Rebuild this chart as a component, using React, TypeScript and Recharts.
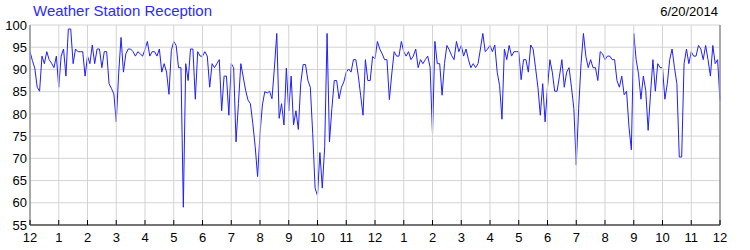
import React from 'react';
import { LineChart, Line, XAxis, YAxis, CartesianGrid } from 'recharts';

// 5-minute readings, one row of 12 per hour (midnight to midnight)
const hours00to03 = [
  94, 92, 90.3, 86, 85.1, 93, 91.3, 94, 92.2, 91.4, 90.4, 93,
  86, 93, 94.6, 88.5, 99.1, 99.1, 91.3, 94.6, 94, 94, 94, 88.5,
  93, 91.3, 95.5, 91.3, 94.6, 94.6, 90.4, 94, 94, 86.8, 85.7, 84.5,
  78.2, 89, 97.2, 89.4, 93.5, 94.6, 94.6, 94, 93, 94, 93.5, 93,
];
const hours04to07 = [
  94.5, 96.3, 93, 94, 94, 93, 94.6, 89.4, 91.3, 89.4, 84.4, 94.3,
  96.3, 95.4, 90.4, 90.4, 59, 91.3, 87.5, 94.6, 94.6, 83.3, 94, 93,
  93, 94, 93, 86, 91.3, 90.4, 91.3, 92.2, 80.7, 88.5, 88.5, 79.7,
  91.3, 90.4, 73.7, 82.3, 91.3, 88.3, 85.3, 83.1, 82.3, 77.8, 72.6, 65.9,
];
const hours08to11 = [
  75.6, 82, 85, 84.7, 85.1, 83.4, 90.3, 98.1, 79, 82.3, 77.5, 90.3,
  80.7, 88.5, 77.5, 80.7, 76.5, 86.8, 91.1, 91.1, 87.5, 86, 75.6, 63.3,
  61.6, 71.3, 63.3, 72.6, 98.1, 73.7, 81.2, 87.5, 87.5, 83.4, 86, 87.2,
  89.4, 90.1, 89.4, 92.2, 92.2, 88.7, 84.2, 79.7, 92.2, 87.5, 87.5, 92.9,
];
const hours12to15 = [
  92.4, 96.3, 94.6, 93.5, 92.2, 92.2, 83.2, 89, 94, 93, 93, 96.3,
  94, 93, 94, 92.2, 93, 94.6, 90.4, 92.2, 91.3, 92.2, 93, 90.5,
  75.4, 96.3, 91.3, 91.3, 84.2, 91.3, 95.4, 94.4, 93.1, 92.2, 96.3, 94,
  95.4, 93, 94.6, 92.2, 90.4, 91.3, 90.4, 91.3, 94.6, 98.1, 94, 94.6,
];
const hours16to19 = [
  95.4, 94, 95.5, 89.4, 86.4, 78.8, 94.6, 92.2, 95.4, 93, 94, 94,
  94, 87.7, 92.2, 92.2, 89.4, 95.5, 94.6, 90.4, 86, 79.7, 86.8, 78.2,
  86, 92.2, 89.4, 85.1, 85.1, 88.5, 92.2, 86, 89.4, 90.4, 86, 81.2,
  68.5, 81.2, 91.3, 98.1, 93, 90.4, 92.2, 90.4, 90.4, 87.5, 94, 93.5,
];
const hours20to23 = [
  92.2, 93, 93, 92.2, 92.2, 87.5, 86, 88.5, 84.3, 85.1, 77.1, 71.9,
  98.1, 92.2, 89, 83.3, 88.5, 85.3, 76.3, 84.5, 92.2, 85.1, 91.3, 90.4,
  90.4, 83.3, 86.8, 92.2, 94.6, 90.4, 86.8, 70.3, 70.3, 91.3, 94.6, 91.3,
  94, 93, 93, 95.4, 94.6, 92.2, 95.4, 92.2, 88.5, 95.4, 91.3, 92.2,
];
const lastReading = [83];

const hourTicks = Array.from({ length: 25 }, (_, i) => i);
const percentTicks = [55, 60, 65, 70, 75, 80, 85, 90, 95, 100];

const readings = [
  ...hours00to03, ...hours04to07, ...hours08to11,
  ...hours12to15, ...hours16to19, ...hours20to23, ...lastReading,
];
const data = readings.map((v, i) => ({ t: i / 12, v }));

const FONT = '"Liberation Sans", Arial, sans-serif';
const PLOT_H = 200;
const hourLabel = (h: number) => String(h % 12 === 0 ? 12 : h % 12);

// hour tick: gray grid line up through the plot, short black tick, label below
const BottomTick = (props: any) => {
  const { x, y, payload } = props;
  return (
    <g>
      <line x1={x} y1={y - PLOT_H} x2={x} y2={y} stroke="#d3d3d3" />
      <line x1={x} y1={y - 5} x2={x} y2={y} stroke="#000" />
      <text x={x} y={y + 17} textAnchor="middle" fontSize={13} fontFamily={FONT} fill="#000">
        {hourLabel(payload.value)}
      </text>
    </g>
  );
};

const TopTick = (props: any) => {
  const { x, y } = props;
  return <line x1={x} y1={y} x2={x} y2={y + 5} stroke="#000" />;
};

export default function App() {
  return (
    <div style={{ position: 'absolute', left: 0, top: 0, width: 750, height: 250, background: '#fff', fontFamily: FONT }}>
      <div style={{ position: 'absolute', left: 33, top: 2, fontSize: 15, lineHeight: '17px', color: '#2b2bff' }}>
        Weather Station Reception
      </div>
      <div style={{ position: 'absolute', right: 32, top: 4, fontSize: 13, lineHeight: '15px', color: '#000' }}>
        6/20/2014
      </div>
      <LineChart width={750} height={250} data={data} margin={{ top: 25, right: 0, bottom: 0, left: 0 }}>
        <CartesianGrid vertical={false} stroke="#d3d3d3" strokeWidth={1} />
        <XAxis
          dataKey="t"
          type="number"
          domain={[0, 24]}
          ticks={hourTicks}
          interval={0}
          height={25}
          stroke="#000"
          tickSize={0}
          tickMargin={0}
          tick={<BottomTick />}
        />
        <XAxis
          xAxisId="top"
          orientation="top"
          dataKey="t"
          type="number"
          domain={[0, 24]}
          ticks={hourTicks}
          interval={0}
          height={0}
          stroke="#000"
          tickSize={0}
          tickMargin={0}
          tick={<TopTick />}
        />
        <YAxis
          domain={[55, 100]}
          ticks={percentTicks}
          interval={0}
          width={30}
          stroke="#000"
          tickLine={false}
          tickSize={0}
          tickMargin={3}
          tick={{ fill: '#000', fontSize: 13, fontFamily: FONT }}
        />
        <YAxis
          yAxisId="right"
          orientation="right"
          domain={[55, 100]}
          ticks={percentTicks}
          interval={0}
          width={30}
          stroke="#000"
          tickLine={false}
          tickSize={0}
          tickMargin={6}
          tick={{ fill: '#000', fontSize: 13, fontFamily: FONT, textAnchor: 'start' }}
        />
        <Line
          type="linear"
          dataKey="v"
          stroke="#1f1fff"
          strokeWidth={1}
          dot={false}
          zIndex={600}
          isAnimationActive={false}
        />
      </LineChart>
    </div>
  );
}
